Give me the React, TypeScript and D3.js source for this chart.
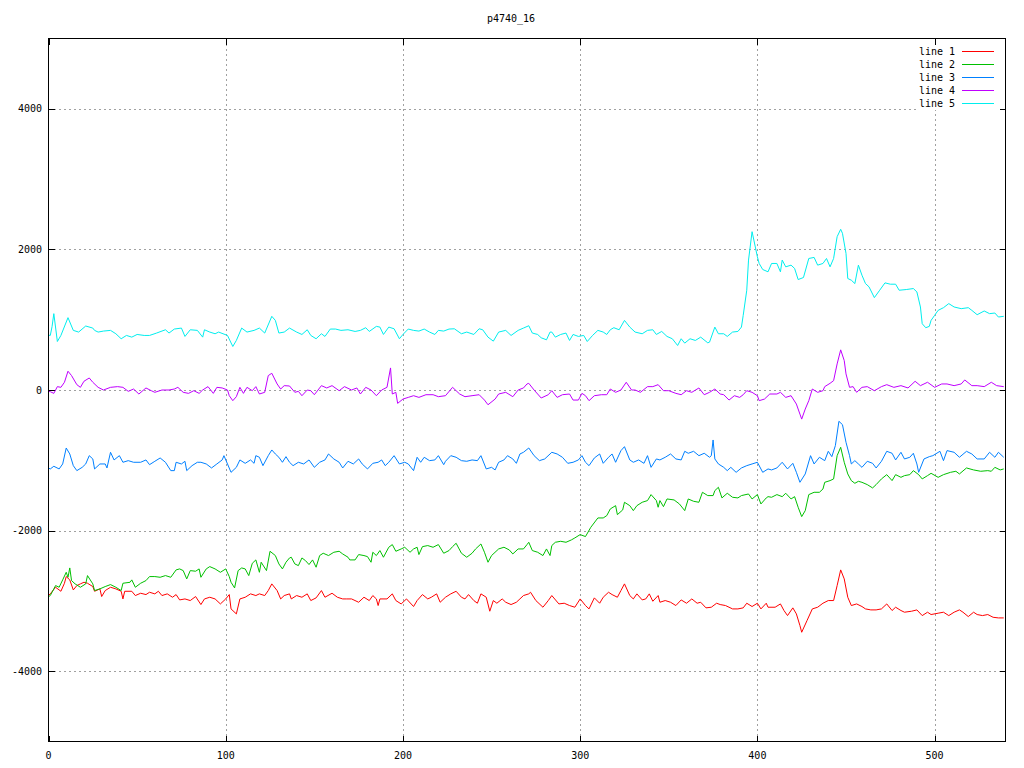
import React from 'react';
import * as d3 from 'd3';

const title = 'p4740_16';
const seriesNames = ['line 1', 'line 2', 'line 3', 'line 4', 'line 5'];
const seriesColors = ['#ff0000', '#00c000', '#0080ff', '#c000ff', '#00eeee'];
const xTicks = [0, 100, 200, 300, 400, 500];
const yTicks = [-4000, -2000, 0, 2000, 4000];

type P = [number, number];

const line1: P[] = [
  [0,-2920],[1,-2900],[4,-2806],[7,-2863],[9,-2749],[10,-2654],[12,-2701],[14,-2844],[16,-2782],[18,-2758],[20,-2735],[22,-2749],[25,-2796],[26,-2863],[29,-2829],[30,-2938],[32,-2853],[35,-2806],[38,-2829],[41,-2863],[42,-2972],[43,-2863],[47,-2863],[49,-2924],[52,-2891],[55,-2910],[57,-2877],[60,-2900],[62,-2863],[64,-2924],[67,-2900],[70,-2948],[72,-2910],[74,-2986],[77,-2972],[80,-2995],[83,-2938],[86,-3052],[88,-2972],[91,-2948],[94,-2972],[97,-3043],[100,-2972],[102,-2910],[103,-3114],[106,-3185],[108,-2972],[111,-2948],[114,-2900],[117,-2924],[119,-2900],[122,-2924],[124,-2853],[126,-2758],[129,-2853],[131,-2972],[133,-2924],[136,-2900],
  [137,-2972],[140,-2924],[143,-2948],[146,-2900],[148,-2995],[151,-2957],[154,-2853],[156,-2948],[160,-2891],[163,-2948],[166,-2972],[168,-2972],[171,-2972],[175,-3019],[178,-2948],[181,-2995],[183,-2924],[185,-2972],[186,-3066],[187,-2972],[191,-2972],[194,-2900],[196,-2995],[199,-3043],[202,-2972],[206,-3080],[208,-2995],[211,-2910],[214,-2972],[216,-2948],[219,-2900],[221,-3019],[224,-2948],[227,-2900],[230,-2863],[233,-2948],[235,-2972],[237,-2910],[240,-2995],[242,-3033],[244,-2900],[247,-2948],[249,-3147],[251,-2995],[253,-3033],[256,-2972],[258,-3019],[261,-3052],[264,-3019],[266,-2972],[268,-2924],[271,-2900],
  [272,-2877],[275,-2995],[279,-3090],[282,-2995],[284,-2924],[288,-3043],[291,-3033],[294,-3066],[297,-3090],[300,-2972],[303,-3066],[305,-3114],[308,-2957],[311,-3033],[313,-2948],[316,-2877],[318,-2910],[321,-2948],[323,-2853],[325,-2758],[328,-2924],[330,-2972],[332,-2900],[335,-2986],[337,-2972],[339,-2900],[341,-3005],[344,-2924],[345,-3019],[348,-2995],[351,-3019],[354,-3066],[357,-2986],[360,-3033],[363,-2972],[366,-3033],[368,-3019],[371,-3099],[374,-3090],[377,-3033],[379,-3052],[382,-3066],[386,-3114],[389,-3114],[392,-3099],[394,-3033],[397,-3080],[400,-3033],[402,-3114],[405,-3033],[406,-3090],
  [410,-3090],[413,-3043],[415,-3137],[417,-3209],[420,-3099],[422,-3185],[424,-3351],[425,-3446],[428,-3280],[431,-3114],[434,-3090],[437,-3033],[440,-2995],[443,-2995],[445,-2782],[447,-2559],[449,-2687],[451,-2948],[453,-3066],[456,-3043],[459,-3080],[461,-3114],[464,-3128],[467,-3128],[470,-3114],[473,-3043],[476,-3137],[478,-3090],[481,-3137],[483,-3161],[487,-3147],[490,-3128],[493,-3209],[496,-3161],[498,-3194],[502,-3175],[505,-3161],[508,-3209],[511,-3161],[514,-3128],[516,-3161],[519,-3223],[522,-3161],[524,-3194],[527,-3209],[530,-3194],[533,-3233],[536,-3242],[539,-3242],
];

const line2: P[] = [
  [0,-2940],[1,-2924],[4,-2782],[6,-2806],[8,-2701],[10,-2593],[11,-2664],[12,-2531],[13,-2711],[15,-2758],[18,-2806],[21,-2758],[22,-2640],[25,-2758],[26,-2853],[29,-2829],[32,-2796],[35,-2768],[38,-2806],[41,-2853],[42,-2749],[46,-2735],[47,-2701],[49,-2806],[52,-2749],[55,-2711],[57,-2654],[60,-2654],[63,-2664],[66,-2640],[69,-2664],[72,-2559],[74,-2545],[76,-2569],[78,-2687],[80,-2569],[83,-2578],[85,-2545],[86,-2664],[89,-2545],[91,-2512],[94,-2545],[97,-2593],[100,-2545],[102,-2654],[103,-2735],[105,-2815],[107,-2569],[109,-2531],[111,-2545],[113,-2640],[115,-2465],[117,-2417],[119,-2593],[120,-2450],[123,-2569],[125,-2294],[128,-2355],[130,-2474],[132,-2545],[134,-2450],[136,-2389],
  [137,-2379],[139,-2474],[141,-2498],[143,-2389],[145,-2427],[147,-2483],[149,-2417],[151,-2521],[153,-2355],[155,-2322],[158,-2355],[161,-2308],[164,-2294],[166,-2332],[169,-2379],[170,-2417],[173,-2417],[175,-2341],[178,-2355],[180,-2370],[182,-2450],[183,-2308],[185,-2355],[187,-2284],[189,-2379],[192,-2237],[194,-2199],[196,-2294],[199,-2261],[201,-2237],[204,-2308],[206,-2261],[208,-2237],[209,-2341],[211,-2228],[214,-2213],[217,-2237],[220,-2199],[223,-2322],[226,-2284],[228,-2228],[230,-2180],[233,-2322],[236,-2379],[239,-2322],[241,-2261],[244,-2190],[246,-2308],[248,-2450],[250,-2355],[254,-2261],[257,-2237],[260,-2275],[262,-2332],[265,-2261],[268,-2261],[270,-2199],
  [271,-2166],[273,-2284],[276,-2308],[279,-2355],[281,-2261],[283,-2355],[284,-2213],[286,-2166],[289,-2152],[292,-2166],[295,-2133],[297,-2104],[300,-2057],[303,-2085],[306,-1953],[310,-1820],[313,-1820],[315,-1787],[317,-1692],[320,-1645],[321,-1773],[324,-1706],[325,-1597],[328,-1645],[330,-1716],[332,-1645],[335,-1597],[338,-1573],[340,-1488],[343,-1573],[344,-1668],[345,-1573],[347,-1659],[349,-1550],[353,-1564],[356,-1621],[359,-1716],[361,-1550],[364,-1583],[367,-1597],[369,-1455],[372,-1502],[375,-1502],[376,-1431],[378,-1384],[380,-1535],[383,-1469],[386,-1526],[389,-1535],[391,-1502],[395,-1479],[397,-1550],[400,-1488],[402,-1621],[405,-1535],[406,-1517],
  [408,-1526],[411,-1488],[414,-1517],[416,-1469],[419,-1550],[421,-1517],[423,-1668],[425,-1801],[427,-1716],[429,-1488],[432,-1455],[435,-1455],[437,-1408],[438,-1313],[441,-1289],[443,-1265],[445,-934],[447,-815],[449,-1028],[451,-1194],[453,-1289],[455,-1327],[457,-1299],[459,-1313],[462,-1346],[465,-1393],[467,-1346],[470,-1265],[473,-1204],[476,-1289],[478,-1204],[481,-1242],[483,-1218],[486,-1204],[488,-1147],[491,-1204],[493,-1265],[496,-1218],[498,-1185],[502,-1242],[505,-1204],[509,-1171],[512,-1156],[514,-1194],[518,-1109],[522,-1137],[526,-1156],[530,-1147],[532,-1156],[534,-1100],[537,-1137],[539,-1123],
];

const line3: P[] = [
  [0,-1110],[1,-1123],[3,-1085],[6,-1123],[8,-1052],[10,-825],[12,-910],[14,-1076],[16,-1147],[19,-1100],[21,-1052],[23,-934],[25,-981],[26,-1123],[29,-1052],[32,-1052],[33,-1109],[35,-886],[37,-995],[40,-934],[42,-1028],[45,-1005],[48,-1028],[52,-1028],[55,-995],[57,-1062],[60,-1014],[63,-967],[66,-1028],[69,-1147],[71,-1147],[72,-1028],[75,-1052],[77,-1014],[78,-1147],[81,-1076],[84,-1028],[86,-1028],[89,-1052],[92,-1109],[95,-1052],[98,-995],[99,-934],[101,-1052],[103,-1171],[106,-1100],[108,-995],[111,-1043],[114,-995],[116,-1043],[117,-934],[119,-957],[121,-1076],[124,-934],[126,-853],[128,-910],[130,-957],[132,-1028],[134,-948],[136,-1028],
  [138,-1076],[141,-1028],[144,-1052],[147,-995],[150,-1100],[153,-1028],[156,-995],[158,-910],[161,-981],[164,-1028],[166,-1109],[169,-1014],[172,-1052],[175,-981],[177,-1052],[180,-1123],[183,-1043],[186,-1028],[188,-995],[190,-1076],[192,-1028],[195,-934],[198,-1052],[201,-1028],[203,-1052],[206,-1147],[208,-957],[210,-1028],[212,-957],[215,-1005],[218,-995],[220,-934],[223,-1062],[224,-1014],[227,-934],[230,-957],[233,-1005],[236,-1014],[239,-995],[242,-1005],[244,-934],[247,-1123],[250,-1100],[252,-1137],[254,-1028],[257,-995],[259,-934],[262,-981],[264,-1043],[266,-910],[268,-886],[271,-825],
  [274,-934],[277,-1005],[280,-981],[283,-910],[284,-886],[287,-910],[290,-957],[293,-1043],[296,-1028],[299,-995],[301,-934],[303,-1028],[305,-1076],[308,-967],[311,-910],[313,-1043],[316,-957],[318,-910],[320,-1028],[323,-863],[325,-806],[328,-995],[330,-1028],[333,-995],[336,-1043],[338,-934],[340,-1100],[343,-981],[345,-995],[348,-957],[351,-910],[354,-981],[357,-995],[359,-872],[361,-900],[364,-872],[367,-934],[370,-900],[373,-957],[374,-934],[375,-711],[376,-981],[378,-1052],[381,-1100],[383,-1147],[385,-1100],[388,-1171],[391,-1109],[394,-1076],[397,-1052],[400,-1028],[403,-1171],[406,-1123],
  [408,-1137],[411,-1109],[414,-1028],[417,-1123],[420,-1043],[422,-1171],[424,-1313],[427,-1194],[430,-934],[432,-1052],[435,-957],[438,-1005],[440,-872],[442,-948],[444,-791],[446,-445],[448,-493],[450,-744],[452,-934],[453,-1052],[455,-1005],[457,-1052],[459,-1100],[462,-1014],[465,-1043],[467,-1109],[470,-1014],[473,-872],[476,-900],[478,-995],[481,-886],[483,-981],[486,-957],[488,-900],[490,-1052],[491,-1171],[494,-981],[497,-948],[499,-934],[503,-872],[505,-1005],[507,-862],[511,-886],[514,-957],[518,-872],[521,-910],[524,-981],[528,-981],[531,-886],[534,-957],[536,-886],[539,-957],
];

const line4: P[] = [
  [0,-20],[1,-24],[3,-48],[5,48],[7,38],[9,110],[11,267],[13,205],[16,76],[18,38],[20,124],[23,171],[25,110],[28,38],[31,0],[35,38],[39,48],[42,38],[45,-19],[48,14],[51,-57],[55,29],[58,-10],[60,-33],[64,0],[68,0],[71,14],[73,38],[76,-33],[79,-48],[82,-10],[85,-48],[87,0],[90,48],[93,-48],[95,38],[98,29],[101,0],[102,-81],[104,-152],[106,-95],[108,38],[110,-48],[112,38],[115,-10],[117,48],[119,-57],[122,-33],[124,205],[126,238],[129,86],[131,14],[133,62],[136,57],
  [139,-33],[141,-19],[143,-81],[146,0],[148,-10],[150,-67],[154,62],[157,29],[160,62],[164,-10],[167,48],[171,0],[174,29],[176,-57],[179,38],[182,0],[185,-81],[188,0],[191,38],[193,314],[194,-57],[196,-33],[197,-190],[200,-129],[203,-105],[206,-81],[209,-105],[213,-67],[217,-67],[220,-95],[224,-81],[228,38],[232,-57],[235,-95],[239,-81],[243,-67],[246,-143],[248,-210],[252,-129],[254,-57],[258,-33],[262,-95],[265,0],[268,29],[270,86],
  [271,95],[274,0],[278,-114],[282,-67],[284,-10],[287,-105],[290,-67],[294,-57],[296,-143],[299,-143],[301,-48],[303,-81],[305,-152],[308,-81],[312,-67],[315,-67],[317,14],[320,-33],[323,0],[326,110],[329,0],[331,0],[334,-33],[338,48],[341,48],[344,76],[347,-10],[350,-10],[354,-48],[357,-67],[360,-10],[363,-33],[367,29],[370,-67],[373,-33],[376,14],[379,-57],[381,-67],[384,-143],[387,-81],[390,-105],[392,-67],[394,-10],[397,-33],[400,-81],
  [401,-152],[404,-129],[407,-57],[411,-57],[413,-33],[416,-105],[419,-81],[422,-200],[424,-343],[425,-414],[427,-271],[429,-152],[431,14],[434,-33],[437,-10],[438,48],[441,95],[443,133],[445,371],[447,571],[449,419],[450,229],[452,38],[454,48],[456,-33],[459,38],[462,48],[466,-10],[470,48],[473,76],[477,38],[481,62],[485,29],[489,124],[492,62],[496,110],[500,38],[504,86],[507,86],[511,62],[515,86],[517,143],[521,62],[524,62],[528,48],[532,110],[535,62],[539,48],
];

const line5: P[] = [
  [0,780],[1,776],[2,900],[3,1086],[5,690],[7,776],[11,1029],[14,848],[17,824],[21,910],[25,881],[26,848],[28,824],[31,838],[35,848],[38,800],[41,729],[44,776],[47,752],[50,790],[54,776],[57,776],[61,810],[66,857],[68,810],[71,867],[75,881],[77,762],[80,857],[84,848],[87,752],[88,857],[91,824],[94,800],[96,824],[101,776],[104,619],[106,705],[109,881],[112,824],[116,848],[119,881],[122,810],[126,1048],[128,990],[130,810],[133,824],[136,881],
  [140,824],[143,790],[146,857],[148,776],[151,729],[154,800],[156,762],[159,867],[162,867],[165,848],[169,857],[173,833],[176,848],[179,886],[181,833],[185,905],[187,895],[189,790],[192,895],[195,871],[198,729],[200,790],[203,867],[206,848],[209,838],[212,867],[215,824],[218,790],[220,848],[223,838],[226,867],[229,871],[233,800],[236,824],[240,790],[243,871],[245,857],[248,752],[251,695],[254,824],[258,848],[261,776],[265,848],[268,881],[271,914],
  [273,810],[276,790],[278,743],[281,714],[283,824],[284,824],[286,752],[289,790],[292,810],[294,705],[296,790],[299,762],[302,776],[304,690],[307,776],[310,848],[313,824],[315,790],[317,857],[319,886],[322,857],[325,990],[328,895],[331,824],[335,800],[338,848],[341,857],[343,790],[346,833],[349,762],[352,729],[355,633],[357,729],[359,667],[362,729],[365,705],[368,752],[372,671],[373,681],[376,895],[378,800],[381,800],[383,762],[386,824],[389,833],[391,895],[392,1062],[394,1419],[395,1848],[397,2252],[398,2133],[400,1895],
  [401,1800],[403,1714],[406,1681],[408,1800],[411,1800],[413,1681],[414,1848],[416,1752],[419,1776],[421,1729],[423,1571],[426,1600],[429,1871],[432,1886],[434,1776],[437,1800],[439,1871],[441,1752],[443,1871],[445,2181],[447,2286],[448,2229],[450,1943],[451,1586],[453,1562],[455,1514],[457,1776],[459,1633],[461,1514],[463,1467],[466,1314],[469,1419],[472,1524],[475,1505],[478,1505],[480,1419],[484,1429],[488,1443],[490,1395],[492,1181],[493,943],[495,886],[497,905],[498,990],[500,1062],[502,1133],[505,1171],[508,1229],[511,1181],[515,1157],[519,1171],[521,1133],[524,1071],[528,1124],[531,1086],[534,1095],[536,1038],[539,1048],
];

const allSeries = [line1, line2, line3, line4, line5];

export default function App() {
  const W = 1024;
  const H = 768;
  const left = 48.5, right = 1005.5, top = 38.5, bottom = 741.5;
  const x = d3.scaleLinear().domain([0, 540]).range([left, right]);
  const y = d3.scaleLinear().domain([-5000, 5000]).range([bottom, top]);
  const gen = d3.line<P>().x(d => x(d[0])).y(d => y(d[1]));
  const font = "'DejaVu Sans Mono', 'Liberation Mono', monospace";
  const tick = 6;
  const legendY = [51.5, 64.5, 77.5, 90.5, 103.5];

  return (
    <svg width={W} height={H} viewBox={`0 0 ${W} ${H}`}
      style={{ position: 'absolute', left: 0, top: 0, background: '#fff' }}>
      <rect x={0} y={0} width={W} height={H} fill="#fff" />
      {/* grid */}
      <g stroke="#a0a0a0" strokeWidth={1} strokeDasharray="2 3" shapeRendering="crispEdges">
        {xTicks.filter(t => t > 0).map(t => (
          <line key={'gx' + t} x1={Math.round(x(t)) + 0.5} x2={Math.round(x(t)) + 0.5} y1={top} y2={bottom} />
        ))}
        {yTicks.map(t => (
          <line key={'gy' + t} x1={left} x2={right} y1={Math.round(y(t)) + 0.5} y2={Math.round(y(t)) + 0.5} />
        ))}
      </g>
      {/* legend background */}
      <rect x={917} y={44} width={84} height={66} fill="#fff" />
      {/* ticks */}
      <g stroke="#000" strokeWidth={1} shapeRendering="crispEdges">
        {xTicks.map(t => {
          const px = Math.round(x(t)) + 0.5;
          return (
            <g key={'tx' + t}>
              <line x1={px} x2={px} y1={bottom} y2={bottom - tick} />
              <line x1={px} x2={px} y1={top} y2={top + tick} />
            </g>
          );
        })}
        {yTicks.map(t => {
          const py = Math.round(y(t)) + 0.5;
          return (
            <g key={'ty' + t}>
              <line x1={left} x2={left + tick} y1={py} y2={py} />
              <line x1={right} x2={right - tick} y1={py} y2={py} />
            </g>
          );
        })}
      </g>
      {/* series */}
      <g fill="none" strokeWidth={1}>
        {allSeries.map((s, i) => (
          <path key={'s' + i} d={gen(s) || ''} stroke={seriesColors[i]} />
        ))}
      </g>
      {/* frame */}
      <rect x={left} y={top} width={right - left} height={bottom - top} fill="none" stroke="#000" strokeWidth={1} shapeRendering="crispEdges" />
      {/* tick labels */}
      <g fontFamily={font} fontSize={10} fill="#000">
        {xTicks.map(t => (
          <text key={'lx' + t} x={x(t)} y={759} textAnchor="middle">{t}</text>
        ))}
        {yTicks.map(t => (
          <text key={'ly' + t} x={42} y={y(t) + 3.5} textAnchor="end">{t}</text>
        ))}
        <text x={511} y={22} textAnchor="middle">{title}</text>
        {seriesNames.map((n, i) => (
          <g key={'lg' + i}>
            <text x={955} y={legendY[i] + 3.5} textAnchor="end">{n}</text>
            <line x1={962} x2={994} y1={legendY[i]} y2={legendY[i]} stroke={seriesColors[i]} strokeWidth={1} shapeRendering="crispEdges" />
          </g>
        ))}
      </g>
    </svg>
  );
}
